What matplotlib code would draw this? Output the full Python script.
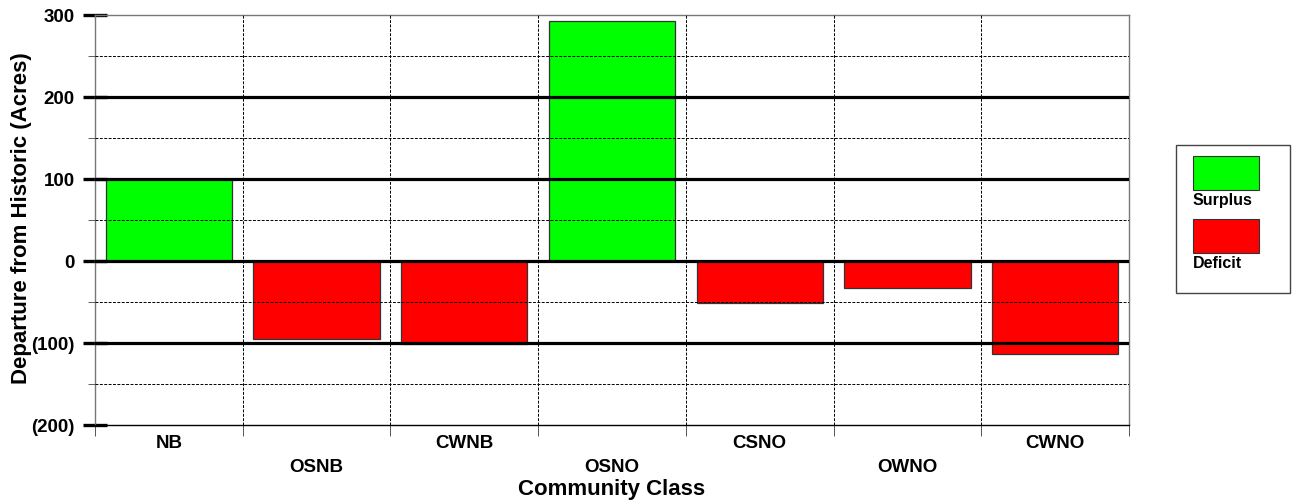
import matplotlib
matplotlib.use("Agg")
import matplotlib.pyplot as plt
from matplotlib.patches import Rectangle
from matplotlib.ticker import MultipleLocator, FuncFormatter, FixedLocator
from matplotlib.transforms import blended_transform_factory

categories = ["NB", "OSNB", "CWNB", "OSNO", "CSNO", "OWNO", "CWNO"]
values = [100, -95, -101, 293, -51, -33, -114]
yticks = [-200, -100, 0, 100, 200, 300]

plt.rcParams['font.family'] = ['Liberation Sans', 'DejaVu Sans']
plt.rcParams['font.weight'] = 'bold'

W, H = 1296, 504
fig = plt.figure(figsize=(12.96, 5.04), dpi=100)
ax = fig.add_axes([95/W, 79/H, (1129-95)/W, (425-15)/H])

GREEN = "#00ff00"
RED = "#ff0000"
colors = [GREEN if v >= 0 else RED for v in values]
x = list(range(len(categories)))
ax.bar(x, values, width=0.855, color=colors, edgecolor="#333333", linewidth=0.9, zorder=1)

ax.set_xlim(-0.5, len(categories) - 0.5)
ax.set_ylim(-200, 300)

# y ticks
ax.yaxis.set_major_locator(FixedLocator(yticks))
ax.yaxis.set_minor_locator(MultipleLocator(50))
ax.yaxis.set_major_formatter(FuncFormatter(lambda v, p: f"({abs(int(v))})" if v < 0 else f"{int(v)}"))
ax.tick_params(axis='y', which='major', direction='inout', length=17, width=2.4, color='black',
               labelsize=13.5, pad=6)
ax.tick_params(axis='y', which='minor', direction='out', length=5, width=0.6, color='#444444')
for lab in ax.get_yticklabels():
    lab.set_fontweight('bold')

# gridlines (drawn above bars)
for v in yticks:
    if -200 < v < 300:
        ax.axhline(v, color='black', linewidth=2.3, zorder=3)
for v in [-150, -50, 50, 150, 250]:
    ax.axhline(v, color='black', linewidth=0.7, linestyle=(0, (3, 1.5)), zorder=3)
for b in [i + 0.5 for i in range(len(categories) - 1)]:
    ax.axvline(b, color='black', linewidth=0.7, linestyle=(0, (3, 1.5)), zorder=3)

# x ticks: labels at centers alternating rows; boundary ticks outward
ax.set_xticks(x)
ax.set_xticklabels([])
ax.tick_params(axis='x', which='major', length=0)
ax.xaxis.set_minor_locator(FixedLocator([i - 0.5 for i in range(len(categories) + 1)]))
ax.tick_params(axis='x', which='minor', direction='out', length=8, width=0.7, color='#555555')
trans = blended_transform_factory(ax.transData, fig.transFigure)
for i, c in enumerate(categories):
    ypix = 448 if i % 2 == 0 else 471.5
    ax.text(i, 1 - ypix / H, c, transform=trans,
            ha='center', va='baseline', fontsize=13.5, fontweight='bold')

fig.text(0.5 * (95 + 1129) / W, 1 - 495 / H, "Community Class", ha='center', va='baseline',
         fontsize=16, fontweight='bold')
fig.text(22 / W, 1 - 218 / H, "Departure from Historic (Acres)", rotation=90, ha='center', va='center',
         fontsize=16, fontweight='bold')

for s in ['top', 'right', 'left']:
    ax.spines[s].set_color('#777777')
    ax.spines[s].set_linewidth(1.0)
ax.spines['bottom'].set_color('black')
ax.spines['bottom'].set_linewidth(1.0)

# legend (manual)
def fx(px): return px / W
def fy(py): return 1 - py / H
fig.add_artist(Rectangle((fx(1176), fy(293)), fx(1290) - fx(1176), fy(145) - fy(293),
                         transform=fig.transFigure, facecolor='white', edgecolor='#444444', linewidth=1.0))
fig.add_artist(Rectangle((fx(1193), fy(190)), fx(1259) - fx(1193), fy(156) - fy(190),
                         transform=fig.transFigure, facecolor=GREEN, edgecolor='#333333', linewidth=0.8))
fig.add_artist(Rectangle((fx(1193), fy(253)), fx(1259) - fx(1193), fy(219) - fy(253),
                         transform=fig.transFigure, facecolor=RED, edgecolor='#333333', linewidth=0.8))
fig.text(fx(1193), fy(205), "Surplus", ha='left', va='baseline', fontsize=11.5, fontweight='bold')
fig.text(fx(1193), fy(268), "Deficit", ha='left', va='baseline', fontsize=11.5, fontweight='bold')

fig.savefig("out.png", dpi=100)
